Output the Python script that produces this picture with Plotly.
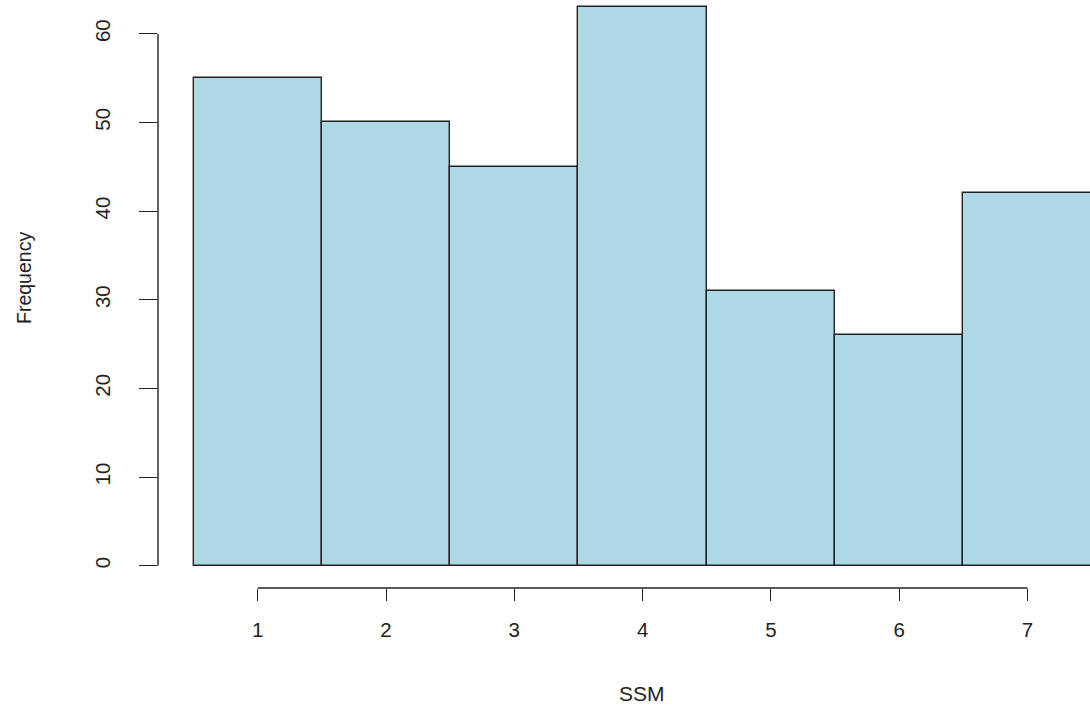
import plotly.graph_objects as go

# Data
ssm_values = [1, 2, 3, 4, 5, 6, 7]
frequency = [55, 50, 45, 63, 31, 26, 42]
x_ticks = [1, 2, 3, 4, 5, 6, 7]
y_ticks = [0, 10, 20, 30, 40, 50, 60]
x_title = "SSM"
y_title = "Frequency"

FONT = "Liberation Sans, Arial, sans-serif"
INK = "#222222"

fig = go.Figure()
fig.add_trace(go.Bar(
    x=ssm_values, y=frequency, width=1,
    marker=dict(color="#ADD8E6", line=dict(color=INK, width=1.4)),
    hoverinfo="x+y",
))

fig.update_layout(
    width=1090, height=709,
    margin=dict(l=158, r=0, t=0, b=121),
    paper_bgcolor="white", plot_bgcolor="white",
    showlegend=False,
    font=dict(family=FONT, size=20, color=INK),
    bargap=0,
)
fig.update_xaxes(
    range=[0.223, 7.487], tickvals=x_ticks, ticktext=[str(v) for v in x_ticks],
    ticks="outside", ticklen=12, tickwidth=1.4, tickcolor=INK,
    showgrid=False, zeroline=False, showline=False,
    ticklabelstandoff=11, tickfont=dict(size=20.5),
)
fig.update_yaxes(
    range=[-2.52, 63.81], tickvals=y_ticks, ticktext=[str(v) for v in y_ticks],
    ticks="outside", ticklen=18, tickwidth=1.4, tickcolor=INK, tickangle=-90,
    showgrid=False, zeroline=False, showline=False,
    ticklabelstandoff=21, tickfont=dict(size=20.5),
)
# R-style axis lines spanning first to last tick
fig.add_shape(type="line", xref="x", yref="paper", x0=min(x_ticks), x1=max(x_ticks),
              y0=0, y1=0, line=dict(color=INK, width=1.4))
fig.add_shape(type="line", xref="paper", yref="y", x0=0, x1=0,
              y0=min(y_ticks), y1=max(y_ticks), line=dict(color=INK, width=1.4))

fig.add_annotation(text=x_title, xref="paper", yref="paper", x=(642-158)/932, y=(588-693)/588,
                   showarrow=False, xanchor="center", yanchor="middle", font=dict(size=21))
fig.add_annotation(text=y_title, xref="paper", yref="paper", x=(24-158)/932, y=(588-278)/588,
                   showarrow=False, xanchor="center", yanchor="middle", textangle=-90, font=dict(size=19.5))

fig.write_html("out.html")
